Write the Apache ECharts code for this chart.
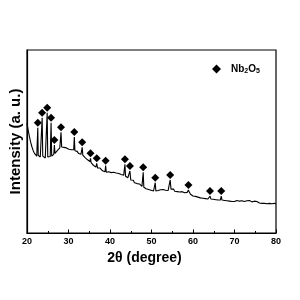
<!DOCTYPE html>
<html><head><meta charset="utf-8">
<script src="https://cdn.jsdelivr.net/npm/echarts@6/dist/echarts.min.js"></script>
<style>html,body{margin:0;padding:0;background:#fff}#c{width:300px;height:300px}</style>
</head><body><div id="c"></div>
<script>
const twoTheta = [20.0,20.3,20.6,20.9,21.2,21.5,21.8,22.1,22.35,22.5,22.6,22.7,22.9,23.2,23.5,23.65,23.8,24.1,24.4,24.7,24.86,25.0,25.3,25.6,25.8,25.95,26.2,26.45,26.6,26.75,27.0,27.3,27.6,27.9,28.05,28.2,28.35,28.6,28.9,29.2,29.5,29.8,30.1,30.4,30.7,31.0,31.25,31.4,31.55,31.8,32.1,32.4,32.7,33.0,33.15,33.3,33.45,33.7,34.0,34.3,34.6,34.9,35.15,35.3,35.45,35.7,36.0,36.3,36.6,36.8,37.0,37.3,37.6,37.9,38.2,38.5,38.8,38.95,39.1,39.4,39.7,40.0,40.3,40.6,40.9,41.2,41.5,41.8,42.1,42.4,42.7,43.0,43.3,43.45,43.6,43.75,44.0,44.3,44.6,44.8,45.0,45.3,45.6,45.9,46.2,46.5,46.8,47.1,47.4,47.7,47.85,48.0,48.15,48.4,48.7,49.0,49.3,49.6,49.9,50.2,50.5,50.75,50.9,51.05,51.3,51.6,51.9,52.2,52.5,52.8,53.1,53.4,53.7,54.0,54.3,54.5,54.7,55.0,55.3,55.6,55.9,56.2,56.5,56.8,57.1,57.4,57.7,58.0,58.3,58.6,58.9,59.1,59.4,59.7,60.0,60.3,60.6,60.9,61.2,61.5,61.8,62.1,62.4,62.7,63.0,63.3,63.6,63.9,64.1,64.3,64.6,64.9,65.2,65.5,65.8,66.1,66.4,66.6,66.8,67.0,67.3,67.6,67.9,68.2,68.5,68.8,69.1,69.4,69.7,70.0,70.3,70.6,70.9,71.2,71.5,71.8,72.1,72.4,72.7,73.0,73.3,73.6,73.9,74.2,74.5,74.8,75.1,75.4,75.7,76.0,76.3,76.6,76.9,77.2,77.5,77.8,78.1,78.4,78.7,79.0,79.3,79.6,80.0];
const intensity = [60,56,52.5,49.5,47,45,43.5,42.5,42,43,57.5,42.5,42,41.5,42,63,42,41.5,41,41.5,65.7,41.5,42,41.8,60.3,42,42.5,43,48,43.5,44,45,46,46.5,47,55,47,47.5,46.8,47.2,46.5,46.8,45.8,46.5,45.5,45,45.5,52.5,45,44.2,44.6,43.5,43.8,43,43.2,46.8,42.5,42,41.2,41.5,40,39.5,39,40.8,38.5,37.5,37,36.5,36,38,35.5,35,35.5,34.5,34,33.8,33.5,36.8,33.2,33,33.5,32.8,33,32.5,33.2,32.4,32.8,32.2,32.5,31.8,32,31.5,31.6,31.2,37.5,31,30.5,30.2,29.8,33.9,29,28.5,28.8,27.5,27.8,27,26.5,26.8,26,25.5,25.6,33.2,25,24.8,24.2,24.5,23.8,24,23.4,23.6,23,23.2,27.5,23,22.6,23.2,22.4,23.6,22.6,23.8,22.8,23.4,22.6,23.2,23.6,29,24,23.2,24,22.8,22.2,22.6,21.8,22.4,21.4,22.6,23.4,22,21.6,22.2,23.5,22.4,21.2,20.6,20.2,19.6,20,19.2,19.6,18.8,19.2,18.6,19,18.4,18.8,18.2,18.6,18.4,20.2,18.6,18,18.4,17.8,18.2,17.6,18,17.6,18,20.2,18,17.4,17.8,17.2,17.6,17,17.4,16.8,17.2,16.8,17.2,16.6,17.8,16.8,17.4,16.6,17.6,16.8,17.2,16.4,17.6,16.6,17.8,16.8,17,16.4,17.4,16.6,17.2,16.2,16.4,15.8,16.2,15.8,16.2,15.6,16,15.6,16.2,15.8,16,15.6,16.2,15.8];
const peakTheta = [22.6,23.65,24.86,25.8,26.6,28.2,31.4,33.3,35.3,36.8,38.95,43.6,44.8,48.0,50.9,54.5,58.9,64.1,66.8];
const peakMarker = [60.3,65.7,68.5,63,50.8,57.8,55.2,49.6,43.6,40.8,39.5,40.3,36.6,35.9,30.2,31.7,26.2,23,23];
const xMin = 20, xMax = 80, xStep = 10;
const phaseName = 'Nb2O5';

const font = '"Liberation Sans", Arial, sans-serif';
const chart = echarts.init(document.getElementById('c'), null, {renderer: 'canvas'});
chart.setOption({
  animation: false,
  backgroundColor: '#fff',
  grid: {left: 26.5, right: 24, top: 50, bottom: 67, show: true, borderColor: '#000', borderWidth: 1.2, backgroundColor: 'transparent'},
  legend: {
    data: [{name: phaseName, icon: 'diamond', itemStyle: {color: '#000', opacity: 1}}],
    left: 207, top: 59, itemWidth: 9, itemHeight: 9, itemGap: 0,
    formatter: () => '{a|Nb}{s|2}{a|O}{s|5}',
    textStyle: {
      padding: [0, 0, 0, 5],
      rich: {
        a: {fontFamily: font, fontWeight: 'bold', fontSize: 10, color: '#000'},
        s: {fontFamily: font, fontWeight: 'bold', fontSize: 7, color: '#000', padding: [5, 0, 0, 0]}
      }
    }
  },
  xAxis: {
    type: 'value', min: xMin, max: xMax, interval: xStep,
    name: '2θ (degree)', nameLocation: 'middle', nameGap: 13,
    nameTextStyle: {fontFamily: font, fontWeight: 'bold', fontSize: 14, color: '#000', padding: [0, 14, 0, 0]},
    axisLine: {onZero: false, lineStyle: {color: '#000', width: 1.2}},
    axisTick: {inside: true, length: 3.5, lineStyle: {color: '#000', width: 1}},
    minorTick: {show: true, splitNumber: 2, length: 2, lineStyle: {color: '#000', width: 1}},
    axisLabel: {fontFamily: font, fontWeight: 'bold', fontSize: 9, color: '#000', margin: 4},
    splitLine: {show: false}
  },
  yAxis: {
    type: 'value', min: 0, max: 100,
    name: 'Intensity (a. u.)', nameLocation: 'middle', nameGap: 4,
    nameTextStyle: {fontFamily: font, fontWeight: 'bold', fontSize: 15, color: '#000'},
    axisLine: {show: true, lineStyle: {color: '#000', width: 1.2}},
    axisTick: {show: false}, axisLabel: {show: false}, splitLine: {show: false}
  },
  series: [
    {type: 'line', name: 'XRD', data: twoTheta.map((x, i) => [x, intensity[i]]), showSymbol: false,
     lineStyle: {color: '#000', width: 1.1}, silent: true},
    {type: 'scatter', name: phaseName, data: peakTheta.map((x, i) => [x, peakMarker[i]]), symbol: 'diamond',
     symbolSize: 8, itemStyle: {color: '#000', opacity: 1}}
  ]
});
</script></body></html>
